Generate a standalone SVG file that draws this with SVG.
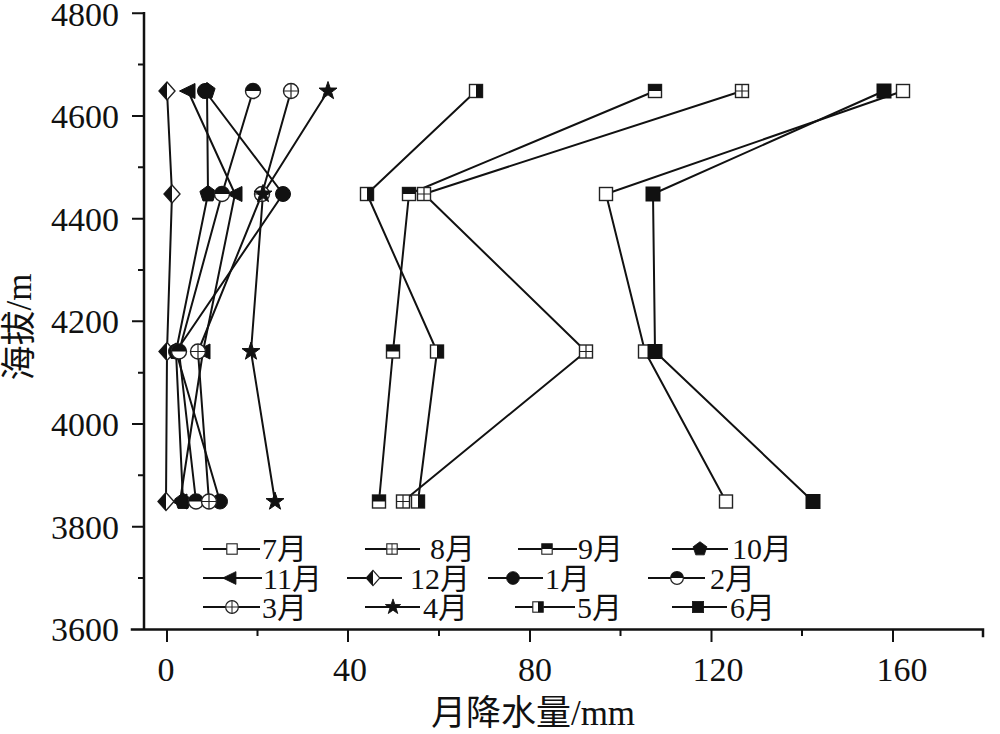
<svg xmlns="http://www.w3.org/2000/svg" width="1000" height="734" viewBox="0 0 1000 734">
<style>
.ax{stroke:#111;stroke-width:2.5;fill:none;stroke-linecap:square}
.tk{stroke:#111;stroke-width:2;fill:none}
.ser{stroke:#111;stroke-width:2;fill:none;stroke-linejoin:round}
.lg{stroke:#111;stroke-width:2.2;fill:none}
.num{font-family:"Liberation Serif","Times New Roman",serif;font-size:34px;fill:#111}
.lt{font-family:"Liberation Serif","Noto Sans CJK SC",serif;font-size:30px;fill:#111}
.title{font-family:"Liberation Serif","Noto Sans CJK SC",serif;font-size:35px;fill:#111}
.o{fill:#fff;stroke:#222;stroke-width:1.4}
.f{fill:#111;stroke:#111;stroke-width:1}
.bl{fill:#111}
.in{stroke:#222;stroke-width:1.2;fill:none}
</style>
<defs>
<g id="m-sqo"><rect class="o" x="-6.5" y="-6.5" width="13" height="13"/></g>
<g id="m-sqx"><rect class="o" x="-6.5" y="-6.5" width="13" height="13"/><path class="in" d="M0,-6.5V6.5M-6.5,0H6.5"/></g>
<g id="m-sqt"><rect class="o" x="-6.5" y="-6.5" width="13" height="13"/><rect class="bl" x="-6.5" y="-6.5" width="13" height="6.5"/></g>
<g id="m-sqr"><rect class="o" x="-6.5" y="-6.5" width="13" height="13"/><rect class="bl" x="0" y="-6.5" width="6.5" height="13"/></g>
<g id="m-sqf"><rect class="f" x="-7" y="-7" width="14" height="14"/></g>
<g id="m-pent"><polygon class="f" points="0,-8.5 8.1,-2.6 5,6.9 -5,6.9 -8.1,-2.6"/></g>
<g id="m-tri"><polygon class="f" points="-8.5,0 7,-7.5 7,7.5"/></g>
<g id="m-dia"><polygon class="o" points="0,-9 8,0 0,9 -8,0"/><polygon class="bl" points="0,-9 -8,0 0,9"/></g>
<g id="m-cf"><circle class="f" r="7.5"/></g>
<g id="m-ch"><circle class="o" r="7.5"/><path class="bl" d="M-7.5,0A7.5,7.5 0 0 1 7.5,0Z"/></g>
<g id="m-cx"><circle class="o" r="7.5"/><path class="in" d="M0,-7.5V7.5M-7.5,0H7.5"/></g>
<g id="m-star"><polygon class="f" points="0,-9.5 2.2,-3 9,-2.9 3.6,1.2 5.6,7.7 0,3.8 -5.6,7.7 -3.6,1.2 -9,-2.9 -2.2,-3"/></g>
</defs>

<g id="axes">
<path class="ax" d="M144,13.3V629.5M132,629.5H983V636"/>
<path class="tk" d="M132,13.3H144M138,64.6H144M132,116H144M138,167.3H144M132,218.7H144M138,270H144M132,321.3H144M138,372.7H144M132,424H144M138,475.3H144M132,526.7H144M138,578H144"/>
<path class="tk" d="M167,629.5V642M257.5,629.5V636M348,629.5V642M439,629.5V636M530,629.5V642M620.5,629.5V636M711.5,629.5V642M802,629.5V636M893,629.5V642"/>
<g class="num" text-anchor="end">
<text x="119" y="26">4800</text>
<text x="119" y="128">4600</text>
<text x="119" y="231">4400</text>
<text x="119" y="333">4200</text>
<text x="119" y="436">4000</text>
<text x="119" y="539">3800</text>
<text x="119" y="641">3600</text>
</g>
<g class="num" text-anchor="middle">
<text x="166" y="681">0</text>
<text x="350" y="681">40</text>
<text x="535" y="681">80</text>
<text x="718" y="681">120</text>
<text x="902" y="681">160</text>
</g>
<text class="title" x="533" y="725" text-anchor="middle">月降水量/mm</text>
<text class="title" transform="translate(31,327) rotate(-90)" text-anchor="middle">海拔/m</text>
</g>

<g id="connectors">
<polyline id="l-7" class="ser" points="903,91 606,194 645,351.5 726,501.5"/>
<polyline id="l-8" class="ser" points="742,91 424,194 586,351.5 403,501.5"/>
<polyline id="l-9" class="ser" points="655,91 409,194 393,351.5 379,501.5"/>
<polyline id="l-10" class="ser" points="207,91 208,194 176,351.5 183,501.5"/>
<polyline id="l-11" class="ser" points="188,91 235,194 203,351.5 180,501.5"/>
<polyline id="l-12" class="ser" points="167,91 172,194 167,351.5 166,501.5"/>
<polyline id="l-1" class="ser" points="205,91 283,194 176,351.5 220,501.5"/>
<polyline id="l-2" class="ser" points="253,91 222,194 179,351.5 196,501.5"/>
<polyline id="l-3" class="ser" points="291,91 262,194 198,351.5 209,501.5"/>
<polyline id="l-4" class="ser" points="328,91 263,194 251,351.5 275,501.5"/>
<polyline id="l-5" class="ser" points="476,91 367,194 437,351.5 418,501.5"/>
<polyline id="l-6" class="ser" points="884,91 653,194 655,351.5 813,501.5"/>
</g>

<g id="s-7"><use href="#m-sqo" x="903" y="91"/><use href="#m-sqo" x="606" y="194"/><use href="#m-sqo" x="645" y="351.5"/><use href="#m-sqo" x="726" y="501.5"/></g>
<g id="s-8"><use href="#m-sqx" x="742" y="91"/><use href="#m-sqx" x="424" y="194"/><use href="#m-sqx" x="586" y="351.5"/><use href="#m-sqx" x="403" y="501.5"/></g>
<g id="s-9"><use href="#m-sqt" x="655" y="91"/><use href="#m-sqt" x="409" y="194"/><use href="#m-sqt" x="393" y="351.5"/><use href="#m-sqt" x="379" y="501.5"/></g>
<g id="s-10"><use href="#m-pent" x="207" y="91"/><use href="#m-pent" x="208" y="194"/><use href="#m-pent" x="176" y="351.5"/><use href="#m-pent" x="183" y="501.5"/></g>
<g id="s-11"><use href="#m-tri" x="188" y="91"/><use href="#m-tri" x="235" y="194"/><use href="#m-tri" x="203" y="351.5"/><use href="#m-tri" x="180" y="501.5"/></g>
<g id="s-12"><use href="#m-dia" x="167" y="91"/><use href="#m-dia" x="172" y="194"/><use href="#m-dia" x="167" y="351.5"/><use href="#m-dia" x="166" y="501.5"/></g>
<g id="s-1"><use href="#m-cf" x="205" y="91"/><use href="#m-cf" x="283" y="194"/><use href="#m-cf" x="176" y="351.5"/><use href="#m-cf" x="220" y="501.5"/></g>
<g id="s-2"><use href="#m-ch" x="253" y="91"/><use href="#m-ch" x="222" y="194"/><use href="#m-ch" x="179" y="351.5"/><use href="#m-ch" x="196" y="501.5"/></g>
<g id="s-3"><use href="#m-cx" x="291" y="91"/><use href="#m-cx" x="262" y="194"/><use href="#m-cx" x="198" y="351.5"/><use href="#m-cx" x="209" y="501.5"/></g>
<g id="s-4"><use href="#m-star" x="328" y="91"/><use href="#m-star" x="263" y="194"/><use href="#m-star" x="251" y="351.5"/><use href="#m-star" x="275" y="501.5"/></g>
<g id="s-5"><use href="#m-sqr" x="476" y="91"/><use href="#m-sqr" x="367" y="194"/><use href="#m-sqr" x="437" y="351.5"/><use href="#m-sqr" x="418" y="501.5"/></g>
<g id="s-6"><use href="#m-sqf" x="884" y="91"/><use href="#m-sqf" x="653" y="194"/><use href="#m-sqf" x="655" y="351.5"/><use href="#m-sqf" x="813" y="501.5"/></g>

<g id="legend">
<path class="lg" d="M203,549H260M365,549H420M518,549H577M672,549H728M203,578H262M347,578H402M488,578H543M648,578H705M203,607H260M365,607H420M515,607H575M672,607H727"/>
<use href="#m-sqo" transform="translate(232,549) scale(0.8)"/>
<use href="#m-sqx" transform="translate(392,549) scale(0.8)"/>
<use href="#m-sqt" transform="translate(547,549) scale(0.8)"/>
<use href="#m-pent" transform="translate(700,549) scale(0.85)"/>
<use href="#m-tri" transform="translate(230,578) scale(0.85)"/>
<use href="#m-dia" transform="translate(373,578) scale(0.85)"/>
<use href="#m-cf" transform="translate(513,578) scale(0.85)"/>
<use href="#m-ch" transform="translate(677,578) scale(0.85)"/>
<use href="#m-cx" transform="translate(232,607) scale(0.85)"/>
<use href="#m-star" transform="translate(393,607) scale(0.85)"/>
<use href="#m-sqr" transform="translate(538,607) scale(0.8)"/>
<use href="#m-sqf" transform="translate(698,607) scale(0.8)"/>
<g class="lt">
<text x="262" y="559">7月</text>
<text x="430" y="559">8月</text>
<text x="578" y="559">9月</text>
<text x="732" y="559">10月</text>
<text x="263" y="589">11月</text>
<text x="410" y="589">12月</text>
<text x="545" y="589">1月</text>
<text x="710" y="589">2月</text>
<text x="262" y="618">3月</text>
<text x="423" y="618">4月</text>
<text x="577" y="618">5月</text>
<text x="730" y="618">6月</text>
</g>
</g>
</svg>
